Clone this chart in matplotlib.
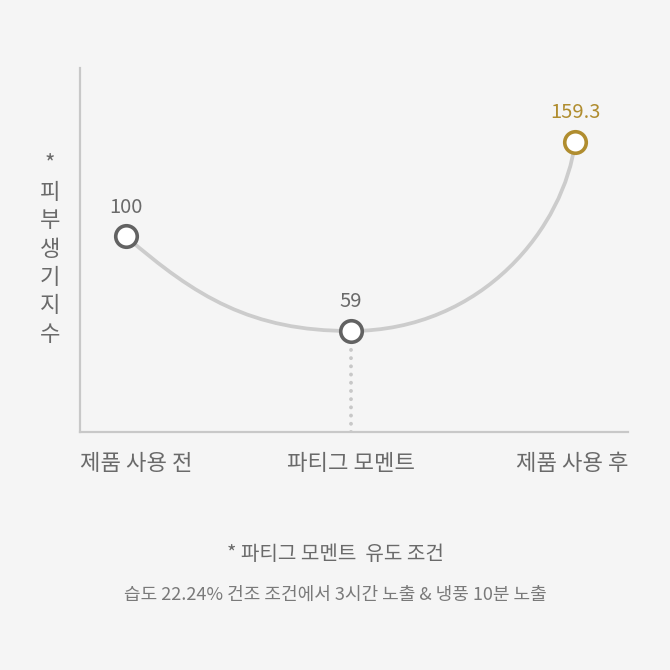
import matplotlib
matplotlib.use("Agg")
import matplotlib.pyplot as plt
from matplotlib.path import Path
from matplotlib.patches import PathPatch
import matplotlib.transforms as mtransforms

plt.rcParams['font.family'] = ['Noto Sans CJK KR', 'DejaVu Sans']

# data
categories = ['제품 사용 전', '파티그 모멘트', '제품 사용 후']
values = [100, 59, 159.3]
value_labels = ['100', '59', '159.3']
y_label = '* 피부생기지수'
note_title = '* 파티그 모멘트  유도 조건'
note_text = '습도 22.24% 건조 조건에서 3시간 노출 & 냉풍 10분 노출'

BG = '#f5f5f5'
AXIS = '#c8c8c8'
LINE = '#cccccc'
DARK = '#626262'
GOLD = '#b08d2f'
TEXT = '#6a6a6a'

fig = plt.figure(figsize=(6.7, 6.7), dpi=100, facecolor=BG)
ax = fig.add_axes([80 / 670, 238 / 670, 548 / 670, 364 / 670], facecolor=BG)

# the chart is not drawn to a linear scale; a power scale fits it
ax.set_yscale('function', functions=(lambda v: v ** 0.25, lambda v: v ** 4))
ax.set_ylim(30.7, 221.7)
ax.set_xlim(-0.205, 2.236)

xs = list(range(len(values)))

# smooth curve through the points (bezier in axes coords)
to_axes = ax.transData + ax.transAxes.inverted()
pts = to_axes.transform(list(zip(xs, values)))
(x0, y0), (x1, y1), (x2, y2) = pts
verts = [
    (x0, y0),
    (x0 + 0.31 * (x1 - x0), y0 + 0.64 * (y1 - y0)),
    (x1 - 0.44 * (x1 - x0), y1),
    (x1, y1),
    (x1 + 0.595 * (x2 - x1), y1),
    (x2 - 0.045 * (x2 - x1), y2 - 0.44 * (y2 - y1)),
    (x2, y2),
]
codes = [Path.MOVETO] + [Path.CURVE4] * 6
ax.add_patch(PathPatch(Path(verts, codes), facecolor='none', edgecolor=LINE,
                       lw=2.7, transform=ax.transAxes, zorder=2))

# dotted drop line from the middle point
ax.plot([xs[1], xs[1]], [30.7, values[1]], color=AXIS, lw=2.8,
        dashes=(0.01, 2.1), dash_capstyle='round', zorder=1)

colors = [DARK, DARK, GOLD]
for x, v, lab, c in zip(xs, values, value_labels, colors):
    ax.plot(x, v, 'o', ms=15.5, mfc='white', mec=c, mew=2.6, zorder=4)
    ax.annotate(lab, (x, v), xytext=(0, 21), textcoords='offset points',
                ha='center', va='center', fontsize=14.5,
                color=c if c == GOLD else TEXT)

# axes style
for s in ['top', 'right']:
    ax.spines[s].set_visible(False)
for s in ['left', 'bottom']:
    ax.spines[s].set_color(AXIS)
    ax.spines[s].set_linewidth(1.6)
ax.set_xticks([])
ax.set_yticks([])
ax.minorticks_off()
ax.tick_params(which='both', length=0, labelleft=False)

# category labels: first and last flush with the axis ends
trans = mtransforms.blended_transform_factory(ax.transData, ax.transAxes)
ly = -0.086
t0 = ax.text(0, ly, categories[0], transform=ax.transAxes, ha='left', va='center')
t1 = ax.text(xs[1], ly, categories[1], transform=trans, ha='center', va='center')
t2 = ax.text(1, ly, categories[2], transform=ax.transAxes, ha='right', va='center')
for t in (t0, t1, t2):
    t.set_fontsize(16)
    t.set_color(TEXT)

# vertical stacked y label
chars = [ch for ch in y_label if ch != ' ']
fig.text(50 / 670, 1 - 249 / 670, '\n'.join(chars), ha='center', va='center',
         fontsize=16, color=TEXT, linespacing=1.3)

fig.text(0.5, 1 - 554 / 670, note_title, ha='center', va='center',
         fontsize=14.5, color=TEXT)
fig.text(0.5, 1 - 595 / 670, note_text, ha='center', va='center',
         fontsize=13, color='#7a7a7a')

fig.savefig('out.png', dpi=100, facecolor=BG)
